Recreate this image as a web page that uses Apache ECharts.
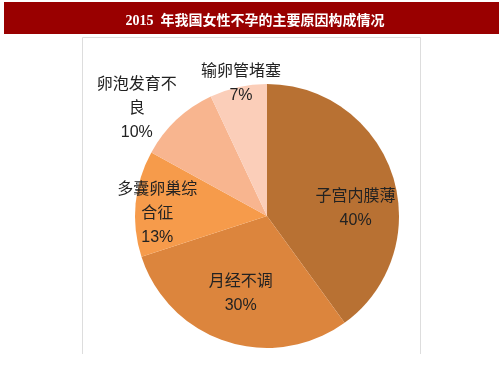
<!DOCTYPE html>
<html>
<head>
<meta charset="utf-8">
<script src="https://cdn.jsdelivr.net/npm/echarts@6/dist/echarts.min.js"></script>
<style>
html,body{margin:0;padding:0;background:#fff;}
#chart{width:503px;height:378px;}
</style>
</head>
<body>
<div id="chart"></div>
<script>
const titleText = '2015  年我国女性不孕的主要原因构成情况';
const categories = ['子宫内膜薄', '月经不调', '多囊卵巢综\n合征', '卵泡发育不\n良', '输卵管堵塞'];
const values = [40, 30, 13, 10, 7];
const colors = ['#B87133', '#DC853D', '#F69B4B', '#F8B58F', '#FBCEB9'];
const labelOffsets = [[23, 14], [-5, 12], [-41, 4], [-83, -57], [-11, -65]];

const chart = echarts.init(document.getElementById('chart'), null, {renderer: 'canvas'});
const data = categories.map((name, i) => ({
  name: name,
  value: values[i],
  itemStyle: {color: colors[i]},
  label: {offset: labelOffsets[i]}
}));

chart.setOption({
  animation: false,
  backgroundColor: '#fff',
  graphic: [
    {type: 'rect', shape: {x: 4, y: 2, width: 495, height: 32}, style: {fill: '#990000'}, z: 0},
    {type: 'polyline', shape: {points: [[82.5, 354], [82.5, 37.5], [420.5, 37.5], [420.5, 354]]},
     style: {stroke: '#dddddd', lineWidth: 1, fill: null}, z: 0}
  ],
  title: {
    text: titleText,
    left: 250,
    textAlign: 'center',
    top: 9,
    textStyle: {
      color: '#fff',
      fontSize: 14,
      fontWeight: 'bold',
      fontFamily: '"Liberation Serif", "Noto Sans CJK SC", serif'
    }
  },
  series: [{
    type: 'pie',
    center: [267, 216],
    radius: 132,
    startAngle: 90,
    clockwise: true,
    label: {
      show: true,
      position: 'inside',
      formatter: function (p) { return p.name + '\n' + p.value + '%'; },
      color: '#222',
      fontSize: 16,
      lineHeight: 24,
      align: 'center',
      fontFamily: '"Liberation Sans", "Noto Sans CJK SC", sans-serif'
    },
    labelLine: {show: false},
    emphasis: {disabled: true},
    data: data
  }]
});
</script>
</body>
</html>
